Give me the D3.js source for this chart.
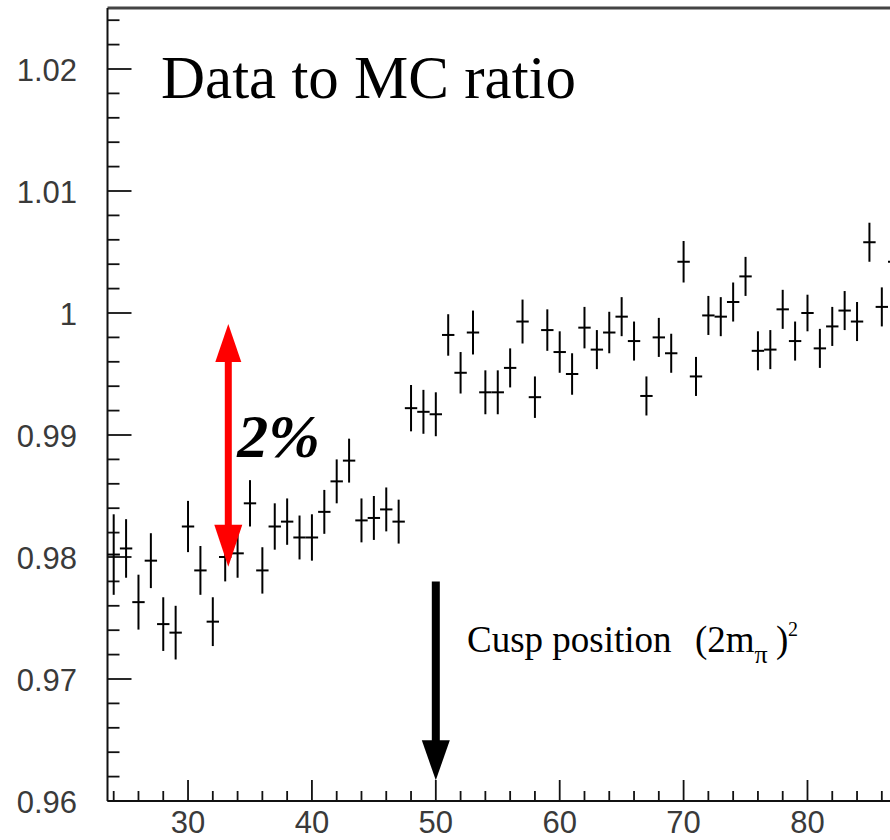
<!DOCTYPE html>
<html>
<head>
<meta charset="utf-8">
<script src="https://cdn.jsdelivr.net/npm/d3@7"></script>
<style>
  body { margin: 0; background: #fff; }
  .ticklabel { font-family: "Liberation Sans", Arial, sans-serif; font-size: 31px; fill: #3a3a3a; }
  .serif { font-family: "Liberation Serif", "Times New Roman", serif; fill: #000; }
</style>
</head>
<body>
<div class="container"></div>
<script>
// bin centres (m^2 bins, width 1) and data/MC ratio with errors
var bins = [24, 25, 26, 27, 28, 29, 30, 31, 32, 33, 34, 35, 36, 37, 38, 39, 40, 41, 42, 43,
            44, 45, 46, 47, 48, 49, 50, 51, 52, 53, 54, 55, 56, 57, 58, 59, 60, 61, 62, 63,
            64, 65, 66, 67, 68, 69, 70, 71, 72, 73, 74, 75, 76, 77, 78, 79, 80, 81, 82, 83,
            84, 85, 86, 87];
var ratio = [0.9802, 0.9807, 0.9763, 0.9797, 0.9745, 0.9738, 0.9825, 0.9789, 0.9747, 0.9800,
             0.9803, 0.9844, 0.9789, 0.9825, 0.9829, 0.9816, 0.9816, 0.9837, 0.9862, 0.9879,
             0.9830, 0.9832, 0.9839, 0.9829, 0.9922, 0.9919, 0.9917, 0.9982, 0.9951, 0.9984,
             0.9935, 0.9935, 0.9955, 0.9993, 0.9931, 0.9986, 0.9968, 0.9950, 0.9988, 0.9970,
             0.9984, 0.9997, 0.9977, 0.9932, 0.9980, 0.9967, 1.0042, 0.9948, 0.9998, 0.9997,
             1.0009, 1.0030, 0.9969, 0.9970, 1.0003, 0.9977, 1.0000, 0.9971, 0.9989, 1.0002,
             0.9993, 1.0058, 1.0005, 1.0042];
var errors = [0.0033, 0.0024, 0.00225, 0.00225, 0.0022, 0.0022, 0.0021, 0.0020, 0.0020, 0.0020,
              0.0020, 0.0019, 0.0019, 0.0019, 0.0019, 0.0018, 0.0019, 0.0018, 0.0018, 0.0018,
              0.0018, 0.0018, 0.0018, 0.0018, 0.0019, 0.0018, 0.0018, 0.0017, 0.0017, 0.0018,
              0.0018, 0.0018, 0.0016, 0.0018, 0.0017, 0.0017, 0.0017, 0.0017, 0.0017, 0.0016,
              0.0017, 0.0016, 0.0016, 0.0016, 0.0016, 0.0016, 0.0017, 0.0016, 0.0016, 0.0016,
              0.0016, 0.0016, 0.0016, 0.0016, 0.0016, 0.0016, 0.0015, 0.0016, 0.0016, 0.0016,
              0.0016, 0.0016, 0.0016, 0.0016];

var xTicks = [30, 40, 50, 60, 70, 80];
var yTicks = [0.96, 0.97, 0.98, 0.99, 1, 1.01, 1.02];
var yTickLabels = ["0.96", "0.97", "0.98", "0.99", "1", "1.01", "1.02"];

var width = 890, height = 840;

var x = d3.scaleLinear().domain([23.5, 88]).range([107.5, 906.6]);
var y = d3.scaleLinear().domain([0.96, 1.025]).range([801, 8]);

var svg = d3.select(".container")
    .append("svg")
    .attr("width", width)
    .attr("height", height);

var data = bins.map(function(b, i) {
  return {x: b, v: ratio[i], e: errors[i]};
});

// frame
svg.append("line")
    .attr("x1", x(23.5)).attr("x2", x(88))
    .attr("y1", y(1.025)).attr("y2", y(1.025))
    .attr("stroke", "#444").attr("stroke-width", 3);
svg.append("line")
    .attr("x1", x(23.5)).attr("x2", x(23.5))
    .attr("y1", y(1.025)).attr("y2", y(0.96))
    .attr("stroke", "#111").attr("stroke-width", 2);
svg.append("line")
    .attr("x1", x(23.5)).attr("x2", x(88))
    .attr("y1", y(0.96)).attr("y2", y(0.96))
    .attr("stroke", "#111").attr("stroke-width", 2);

// y ticks (inside, pointing right)
var yMinor = d3.range(0, 33).map(function(i) { return 0.96 + i * 0.002; });
svg.append("g").selectAll("line")
    .data(yMinor)
    .enter().append("line")
    .attr("x1", x(23.5))
    .attr("x2", function(d, i) { return x(23.5) + (i % 5 == 0 ? 24 : 12); })
    .attr("y1", function(d) { return y(d); })
    .attr("y2", function(d) { return y(d); })
    .attr("stroke", "#111").attr("stroke-width", 1.8);

svg.append("g").selectAll("text")
    .data(yTicks)
    .enter().append("text")
    .attr("class", "ticklabel")
    .attr("x", 77)
    .attr("y", function(d) { return y(d) + 12; })
    .attr("text-anchor", "end")
    .text(function(d, i) { return yTickLabels[i]; });

// x ticks (inside, pointing up)
var xMinor = d3.range(24, 89, 2);
svg.append("g").selectAll("line")
    .data(xMinor)
    .enter().append("line")
    .attr("x1", function(d) { return x(d); })
    .attr("x2", function(d) { return x(d); })
    .attr("y1", y(0.96))
    .attr("y2", function(d) { return y(0.96) - (d % 10 == 0 ? 21 : 10); })
    .attr("stroke", "#111").attr("stroke-width", 1.8);

svg.append("g").selectAll("text")
    .data(xTicks)
    .enter().append("text")
    .attr("class", "ticklabel")
    .attr("x", function(d) { return x(d); })
    .attr("y", 833)
    .attr("text-anchor", "middle")
    .text(function(d) { return d; });

// data points with error bars
var pts = svg.append("g").attr("stroke", "#000").attr("stroke-width", 2);
pts.selectAll(".ebar")
    .data(data)
    .enter().append("line")
    .attr("x1", function(d) { return x(d.x); })
    .attr("x2", function(d) { return x(d.x); })
    .attr("y1", function(d) { return y(d.v - d.e); })
    .attr("y2", function(d) { return y(d.v + d.e); });
pts.selectAll(".hbar")
    .data(data)
    .enter().append("line")
    .attr("x1", function(d) { return Math.max(x(d.x - 0.5), x(23.5)); })
    .attr("x2", function(d) { return x(d.x + 0.5); })
    .attr("y1", function(d) { return y(d.v); })
    .attr("y2", function(d) { return y(d.v); });

// title
svg.append("text")
    .attr("class", "serif")
    .attr("x", 161).attr("y", 98)
    .attr("font-size", 61)
    .text("Data to MC ratio");

// red 2% double arrow
var rx = x(33.25), rTop = y(0.9991), rBot = y(0.9792);
svg.append("line")
    .attr("x1", rx).attr("x2", rx)
    .attr("y1", rTop + 30).attr("y2", rBot - 30)
    .attr("stroke", "#ff0000").attr("stroke-width", 7);
svg.append("path")
    .attr("d", "M" + rx + "," + rTop + "L" + (rx - 13) + "," + (rTop + 38) + "L" + (rx + 13) + "," + (rTop + 38) + "Z")
    .attr("fill", "#ff0000");
svg.append("path")
    .attr("d", "M" + rx + "," + rBot + "L" + (rx - 14) + "," + (rBot - 42) + "L" + (rx + 14) + "," + (rBot - 42) + "Z")
    .attr("fill", "#ff0000");

svg.append("text")
    .attr("class", "serif")
    .attr("x", rx + 9).attr("y", 457)
    .attr("font-size", 62)
    .attr("font-weight", "bold")
    .attr("font-style", "italic")
    .text("2%");

// black arrow at the cusp
var cx = x(50), cTop = y(0.978), cTip = y(0.9617);
svg.append("line")
    .attr("x1", cx).attr("x2", cx)
    .attr("y1", cTop).attr("y2", cTip - 35)
    .attr("stroke", "#000").attr("stroke-width", 8);
svg.append("path")
    .attr("d", "M" + cx + "," + cTip + "L" + (cx - 14) + "," + (cTip - 40) + "L" + (cx + 14) + "," + (cTip - 40) + "Z")
    .attr("fill", "#000");

var cusp = svg.append("text")
    .attr("class", "serif")
    .attr("x", 467).attr("y", 652)
    .attr("font-size", 37);
cusp.append("tspan").text("Cusp position");
cusp.append("tspan").attr("x", 695).text("(2m");
cusp.append("tspan").attr("dy", 11).attr("font-size", 26).text("π");
cusp.append("tspan").attr("x", 776).attr("dy", -11).text(")");
cusp.append("tspan").attr("x", 788).attr("dy", -16).attr("font-size", 20).text("2");
</script>
</body>
</html>
